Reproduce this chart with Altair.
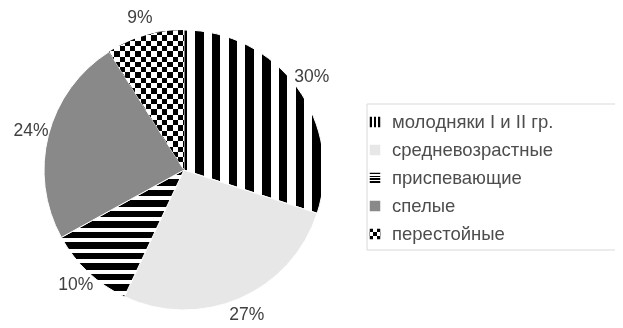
import math
import altair as alt
import pandas as pd

# ---------------- data ----------------
categories = ["молодняки I и II гр.", "средневозрастные", "приспевающие", "спелые", "перестойные"]
shares = [30, 27, 10, 24, 9]
labels = ["30%", "27%", "10%", "24%", "9%"]

df = pd.DataFrame({"cat": categories, "share": shares, "label": labels, "order": list(range(len(categories)))})

# ---------------- layout (plot coords = page - 8) ----------------
CX, CY, R = 176, 162, 140
LABEL_R = 158
FONT = "Liberation Sans"


def stripe_stops(period, on_w, phase, on="#000000", off="#ffffff"):
    edges = []
    s = phase - period * math.ceil(phase / period)
    while s < 1:
        edges.append((s, s + on_w))
        s += period
    pts = sorted(set([0.0, 1.0] + [min(max(x, 0.0), 1.0) for e in edges for x in e]))
    stops = []
    for p, q in zip(pts[:-1], pts[1:]):
        if q - p <= 1e-9:
            continue
        m = (p + q) / 2
        c = on if any(a <= m < b for a, b in edges) else off
        stops.append(alt.GradientStop(offset=round(p, 5), color=c))
        stops.append(alt.GradientStop(offset=round(q, 5), color=c))
    return stops


def vgrad(stops):
    return alt.LinearGradient(gradient="linear", stops=stops, x1=0, y1=0, x2=1, y2=0)


def hgrad(stops):
    return alt.LinearGradient(gradient="linear", stops=stops, x1=0, y1=0, x2=0, y2=1)


CLEAR = "rgba(255,255,255,0)"

pie_fills = {
    categories[0]: [(vgrad(stripe_stops(0.1196, 0.061, 0.079)), None)],
    categories[1]: [("#e7e7e7", None)],
    categories[2]: [(hgrad(stripe_stops(0.0829, 0.05, 0.073)), None)],
    categories[3]: [("#898989", None)],
    categories[4]: [
        (vgrad(stripe_stops(0.1413, 0.0707, 0.0)), None),
        (hgrad(stripe_stops(0.0757, 0.0379, 0.0, on="#ffffff", off=CLEAR)), "difference"),
    ],
}
legend_fills = {
    categories[0]: [(vgrad(stripe_stops(0.4, 0.2, 0.0)), None)],
    categories[1]: [("#e7e7e7", None)],
    categories[2]: [(hgrad(stripe_stops(0.27, 0.16, 0.0)), None)],
    categories[3]: [("#898989", None)],
    categories[4]: [
        (vgrad(stripe_stops(2 / 3, 1 / 3, 0.0)), None),
        (hgrad(stripe_stops(1.0, 1 / 3, 1 / 3, on="#ffffff", off=CLEAR)), "difference"),
    ],
}

base = (
    alt.Chart(df)
    .transform_window(cum="sum(share)", sort=[alt.SortField("order")], frame=[None, 0])
    .transform_joinaggregate(total="sum(share)")
    .transform_calculate(
        t0="(datum.cum - datum.share) / datum.total",
        t1="datum.cum / datum.total",
        tm="(datum.cum - datum.share / 2) / datum.total",
    )
)
theta_scale = alt.Scale(domain=[0, 1], range=[0, 2 * math.pi])
y_leg = alt.Y(
    "cat:N",
    scale=alt.Scale(type="point", domain=categories, range=[114, 226], padding=0),
    axis=None,
)

layers = []

box = alt.Chart(pd.DataFrame({"a": [0]})).mark_rect(fill="#ffffff", stroke="#d9d9d9", strokeWidth=1).encode(
    x=alt.value(359), x2=alt.value(611), y=alt.value(96), y2=alt.value(242)
)
layers.append(box)

for c in categories:
    for fill, blend in pie_fills[c]:
        kw = dict(outerRadius=R, fill=fill)
        if blend:
            kw["blend"] = blend
        elif c != categories[4]:
            kw.update(stroke="#ffffff", strokeWidth=1)
        layers.append(
            base.transform_filter(alt.datum.cat == c)
            .mark_arc(**kw)
            .encode(
                theta=alt.Theta("t0:Q", scale=theta_scale),
                theta2="t1:Q",
                x=alt.value(CX),
                y=alt.value(CY),
            )
        )

labels_layer = base.mark_text(radius=LABEL_R, fontSize=17.5, font=FONT, color="#404040").encode(
    theta=alt.Theta("tm:Q", scale=theta_scale),
    text="label:N",
    x=alt.value(CX),
    y=alt.value(CY),
)
layers.append(labels_layer)

for c in categories:
    for fill, blend in legend_fills[c]:
        kw = dict(size=110, fill=fill, opacity=1, filled=True)
        if blend:
            kw["blend"] = blend
        layers.append(
            alt.Chart(df)
            .transform_filter(alt.datum.cat == c)
            .mark_square(**kw)
            .encode(x=alt.value(367), y=y_leg)
        )

legend_text = alt.Chart(df).mark_text(align="left", baseline="middle", fontSize=18.5, font=FONT, color="#4d4d4d").encode(
    x=alt.value(384), y=y_leg, text="cat:N"
)
layers.append(legend_text)

chart = (
    alt.layer(*layers)
    .properties(width=607, height=312, autosize=alt.AutoSizeParams(type="none"), padding=0, background="#ffffff")
    .configure_view(strokeWidth=0)
)

chart.save("out.html", embed_options={"renderer": "svg", "actions": False})
